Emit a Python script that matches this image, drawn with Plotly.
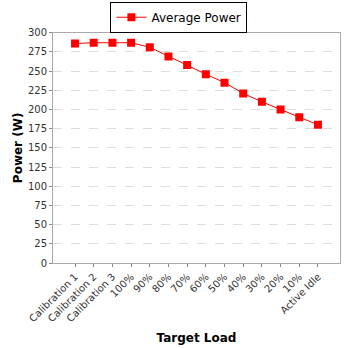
import plotly.graph_objects as go

categories = ["Calibration 1", "Calibration 2", "Calibration 3", "100%", "90%", "80%",
              "70%", "60%", "50%", "40%", "30%", "20%", "10%", "Active Idle"]
power = [286, 287, 287, 287, 281, 269, 258, 246, 235, 221, 210, 200, 190, 180]
y_ticks = list(range(0, 301, 25))

fig = go.Figure()
fig.add_trace(go.Scatter(
    x=categories, y=power, mode="lines+markers", name="Average Power",
    line=dict(color="#ff0000", width=1),
    marker=dict(symbol="square", size=8, color="#ff0000"),
))

fig.update_layout(
    width=348, height=348,
    margin=dict(l=53, r=8, t=29, b=85),
    paper_bgcolor="white", plot_bgcolor="white",
    font=dict(family="DejaVu Sans", size=10, color="#333333"),
    showlegend=True,
    legend=dict(orientation="h", x=0.2, xanchor="left", y=0.995, yanchor="top",
                yref="container", bordercolor="black", borderwidth=1,
                font=dict(family="DejaVu Sans", size=12, color="black"),
                itemwidth=30, tracegroupgap=0),
)
fig.update_xaxes(
    type="category", range=[-1.18, 14.18], automargin=False,
    tickangle=-45, ticks="outside", ticklen=3, tickcolor="#888888",
    showline=True, linecolor="#aaaaaa", mirror=True, showgrid=False,
    tickfont=dict(size=10, color="#333333"),
    title=dict(text="<b>Target Load</b>", font=dict(size=12, color="black"), standoff=10),
)
fig.update_yaxes(
    range=[0, 300], tickvals=y_ticks, ticks="outside", ticklen=3, tickcolor="#888888",
    showline=True, linecolor="#aaaaaa", mirror=True, automargin=False,
    showgrid=True, gridcolor="#dddddd", griddash="dash", gridwidth=1,
    zeroline=False,
    tickfont=dict(size=10, color="#333333"),
    title=dict(text="<b>Power (W)</b>", font=dict(size=12, color="black"), standoff=2),
)

fig.write_html("out.html")
